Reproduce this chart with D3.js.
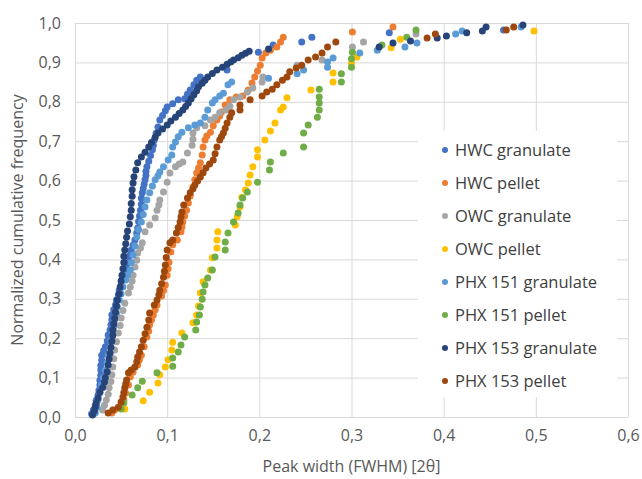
<!DOCTYPE html>
<html>
<head>
<meta charset="utf-8">
<script src="https://cdn.jsdelivr.net/npm/d3@7"></script>
<style>
  html, body { margin: 0; padding: 0; background: #ffffff; }
  svg { display: block; }
  text { font-family: "Open Sans", "Noto Sans", sans-serif; }
</style>
</head>
<body>
<svg id="chart" width="642" height="479"></svg>
<script>
// ---------- DATA ----------
const xTicks = [0, 0.1, 0.2, 0.3, 0.4, 0.5, 0.6];
const yTicks = [0, 0.1, 0.2, 0.3, 0.4, 0.5, 0.6, 0.7, 0.8, 0.9, 1.0];
const xTitle = "Peak width (FWHM) [2θ]";
const yTitle = "Normalized cumulative frequency";

const seriesNames = ["HWC granulate", "HWC pellet", "OWC granulate", "OWC pellet",
  "PHX 151 granulate", "PHX 151 pellet", "PHX 153 granulate", "PHX 153 pellet"];

// [peak width, cumulative frequency]
const hwcGranulate = [[0.018,0.008],[0.020,0.018],[0.022,0.030],[0.023,0.042],[0.025,0.056],[0.026,0.068],[0.027,0.081],[0.027,0.093],[0.028,0.106],[0.028,0.119],[0.028,0.131],[0.029,0.144],[0.029,0.157],[0.031,0.168],[0.033,0.178],[0.035,0.193],[0.036,0.208],[0.038,0.221],[0.039,0.234],[0.040,0.247],[0.040,0.259],[0.042,0.272],[0.044,0.285],[0.045,0.297],[0.047,0.310],[0.048,0.322],[0.050,0.335],[0.051,0.348],[0.053,0.361],[0.055,0.374],[0.056,0.386],[0.058,0.399],[0.060,0.411],[0.061,0.424],[0.063,0.436],[0.065,0.449],[0.067,0.467],[0.068,0.480],[0.069,0.496],[0.070,0.510],[0.071,0.525],[0.072,0.540],[0.072,0.555],[0.073,0.569],[0.074,0.580],[0.075,0.591],[0.076,0.602],[0.077,0.613],[0.077,0.624],[0.078,0.635],[0.080,0.649],[0.082,0.664],[0.084,0.678],[0.085,0.690],[0.086,0.703],[0.088,0.720],[0.090,0.736],[0.092,0.754],[0.095,0.765],[0.098,0.777],[0.100,0.787],[0.106,0.795],[0.112,0.805],[0.119,0.808],[0.122,0.819],[0.125,0.830],[0.129,0.843],[0.132,0.855],[0.136,0.863],[0.165,0.881],[0.199,0.926],[0.215,0.944],[0.246,0.952],[0.257,0.964],[0.341,0.975],[0.465,0.982]];

const hwcPellet = [[0.040,0.010],[0.043,0.018],[0.049,0.025],[0.051,0.034],[0.053,0.043],[0.055,0.061],[0.058,0.081],[0.060,0.102],[0.063,0.114],[0.068,0.132],[0.070,0.145],[0.072,0.157],[0.075,0.178],[0.078,0.203],[0.080,0.218],[0.081,0.234],[0.083,0.246],[0.085,0.259],[0.087,0.272],[0.089,0.284],[0.094,0.307],[0.096,0.321],[0.098,0.335],[0.100,0.360],[0.101,0.376],[0.102,0.393],[0.104,0.419],[0.106,0.437],[0.111,0.449],[0.115,0.470],[0.116,0.482],[0.117,0.495],[0.119,0.510],[0.121,0.525],[0.123,0.543],[0.125,0.561],[0.128,0.584],[0.130,0.602],[0.132,0.619],[0.134,0.632],[0.136,0.645],[0.138,0.665],[0.139,0.685],[0.141,0.703],[0.143,0.713],[0.147,0.723],[0.150,0.739],[0.154,0.754],[0.157,0.764],[0.159,0.774],[0.163,0.792],[0.168,0.805],[0.175,0.812],[0.182,0.815],[0.188,0.830],[0.192,0.848],[0.195,0.863],[0.198,0.878],[0.201,0.893],[0.203,0.911],[0.207,0.924],[0.212,0.931],[0.219,0.939],[0.223,0.952],[0.226,0.964],[0.301,0.977],[0.345,0.990]];

const owcGranulate = [[0.030,0.018],[0.032,0.030],[0.034,0.043],[0.036,0.058],[0.037,0.074],[0.039,0.090],[0.040,0.107],[0.041,0.127],[0.042,0.148],[0.043,0.170],[0.045,0.191],[0.047,0.213],[0.049,0.232],[0.050,0.251],[0.052,0.270],[0.054,0.289],[0.058,0.315],[0.060,0.330],[0.062,0.345],[0.063,0.360],[0.065,0.381],[0.067,0.398],[0.068,0.416],[0.071,0.429],[0.073,0.442],[0.076,0.470],[0.081,0.487],[0.087,0.505],[0.089,0.525],[0.091,0.538],[0.092,0.551],[0.096,0.571],[0.100,0.596],[0.103,0.619],[0.109,0.635],[0.113,0.642],[0.117,0.647],[0.122,0.670],[0.127,0.690],[0.128,0.705],[0.128,0.721],[0.132,0.734],[0.141,0.739],[0.147,0.754],[0.152,0.761],[0.157,0.772],[0.164,0.779],[0.168,0.789],[0.172,0.805],[0.179,0.812],[0.187,0.825],[0.193,0.835],[0.203,0.850],[0.204,0.863],[0.241,0.893],[0.268,0.906],[0.301,0.939],[0.313,0.952],[0.370,0.972]];

const owcPellet = [[0.054,0.020],[0.074,0.041],[0.081,0.063],[0.090,0.086],[0.092,0.107],[0.098,0.127],[0.101,0.145],[0.105,0.170],[0.106,0.190],[0.116,0.213],[0.128,0.239],[0.132,0.259],[0.134,0.282],[0.136,0.315],[0.139,0.343],[0.147,0.373],[0.149,0.404],[0.154,0.429],[0.154,0.449],[0.155,0.470],[0.174,0.487],[0.176,0.508],[0.179,0.533],[0.181,0.558],[0.185,0.576],[0.188,0.594],[0.190,0.614],[0.193,0.635],[0.198,0.660],[0.198,0.678],[0.206,0.703],[0.212,0.726],[0.217,0.746],[0.223,0.779],[0.226,0.787],[0.230,0.810],[0.256,0.830],[0.280,0.850],[0.280,0.873],[0.300,0.898],[0.306,0.914],[0.343,0.937],[0.353,0.959],[0.498,0.980]];

const phx151Granulate = [[0.022,0.010],[0.024,0.025],[0.025,0.043],[0.027,0.062],[0.029,0.081],[0.031,0.100],[0.033,0.119],[0.035,0.138],[0.036,0.157],[0.038,0.176],[0.039,0.195],[0.041,0.212],[0.042,0.229],[0.043,0.246],[0.045,0.263],[0.046,0.280],[0.048,0.297],[0.050,0.313],[0.052,0.330],[0.055,0.348],[0.057,0.360],[0.060,0.373],[0.061,0.392],[0.063,0.411],[0.065,0.434],[0.067,0.457],[0.069,0.476],[0.072,0.495],[0.074,0.514],[0.076,0.533],[0.078,0.551],[0.081,0.569],[0.084,0.586],[0.087,0.602],[0.090,0.612],[0.092,0.622],[0.096,0.635],[0.101,0.652],[0.105,0.665],[0.106,0.685],[0.109,0.698],[0.112,0.711],[0.116,0.723],[0.123,0.734],[0.130,0.741],[0.136,0.746],[0.141,0.761],[0.144,0.779],[0.149,0.797],[0.152,0.805],[0.157,0.815],[0.161,0.822],[0.166,0.843],[0.170,0.850],[0.210,0.860],[0.241,0.871],[0.248,0.881],[0.274,0.888],[0.274,0.901],[0.280,0.911],[0.309,0.924],[0.328,0.931],[0.358,0.939],[0.371,0.949],[0.413,0.972],[0.420,0.980],[0.484,0.990]];

const phx151Pellet = [[0.050,0.020],[0.053,0.036],[0.062,0.056],[0.068,0.074],[0.073,0.091],[0.089,0.112],[0.106,0.129],[0.106,0.150],[0.112,0.165],[0.115,0.183],[0.119,0.203],[0.131,0.221],[0.132,0.241],[0.135,0.259],[0.136,0.279],[0.138,0.299],[0.139,0.317],[0.141,0.335],[0.144,0.353],[0.149,0.373],[0.152,0.406],[0.163,0.424],[0.163,0.444],[0.166,0.467],[0.172,0.495],[0.177,0.518],[0.179,0.538],[0.182,0.556],[0.187,0.571],[0.198,0.596],[0.211,0.627],[0.212,0.647],[0.226,0.670],[0.248,0.685],[0.248,0.721],[0.253,0.741],[0.263,0.761],[0.265,0.779],[0.265,0.797],[0.265,0.812],[0.265,0.832],[0.289,0.850],[0.289,0.871],[0.300,0.888],[0.300,0.909],[0.301,0.926],[0.333,0.944],[0.360,0.964],[0.370,0.982]];

const phx153Granulate = [[0.019,0.005],[0.021,0.015],[0.022,0.025],[0.023,0.035],[0.025,0.048],[0.027,0.063],[0.030,0.075],[0.032,0.088],[0.033,0.100],[0.035,0.115],[0.036,0.132],[0.037,0.147],[0.038,0.162],[0.039,0.177],[0.040,0.192],[0.041,0.207],[0.041,0.221],[0.042,0.236],[0.043,0.250],[0.044,0.266],[0.045,0.282],[0.046,0.297],[0.048,0.313],[0.049,0.330],[0.050,0.345],[0.051,0.360],[0.052,0.376],[0.053,0.392],[0.053,0.408],[0.054,0.424],[0.055,0.440],[0.056,0.456],[0.057,0.472],[0.059,0.490],[0.060,0.508],[0.061,0.525],[0.061,0.542],[0.062,0.560],[0.062,0.577],[0.063,0.594],[0.064,0.610],[0.066,0.627],[0.068,0.645],[0.072,0.660],[0.076,0.672],[0.080,0.685],[0.083,0.697],[0.087,0.710],[0.090,0.721],[0.095,0.731],[0.100,0.741],[0.104,0.751],[0.109,0.761],[0.113,0.770],[0.117,0.779],[0.120,0.788],[0.123,0.797],[0.126,0.808],[0.129,0.818],[0.132,0.828],[0.134,0.838],[0.138,0.847],[0.141,0.855],[0.144,0.863],[0.149,0.872],[0.154,0.881],[0.160,0.888],[0.165,0.895],[0.169,0.901],[0.172,0.906],[0.177,0.912],[0.181,0.918],[0.185,0.923],[0.189,0.928],[0.210,0.934],[0.330,0.939],[0.345,0.949],[0.364,0.954],[0.393,0.962],[0.403,0.967],[0.425,0.975],[0.442,0.980],[0.446,0.990],[0.486,0.995]];

const phx153Pellet = [[0.036,0.010],[0.041,0.018],[0.047,0.025],[0.050,0.038],[0.052,0.051],[0.053,0.062],[0.054,0.074],[0.055,0.084],[0.056,0.094],[0.058,0.112],[0.061,0.119],[0.065,0.127],[0.067,0.140],[0.068,0.152],[0.070,0.165],[0.072,0.178],[0.074,0.195],[0.076,0.211],[0.078,0.228],[0.080,0.246],[0.081,0.264],[0.086,0.284],[0.089,0.297],[0.091,0.310],[0.092,0.322],[0.094,0.338],[0.096,0.355],[0.097,0.370],[0.098,0.386],[0.099,0.405],[0.100,0.424],[0.103,0.442],[0.106,0.449],[0.110,0.467],[0.112,0.481],[0.114,0.495],[0.115,0.508],[0.116,0.520],[0.118,0.538],[0.122,0.556],[0.125,0.569],[0.128,0.579],[0.130,0.589],[0.133,0.599],[0.136,0.609],[0.139,0.620],[0.142,0.632],[0.146,0.642],[0.150,0.652],[0.152,0.668],[0.154,0.685],[0.157,0.703],[0.159,0.712],[0.161,0.721],[0.163,0.733],[0.165,0.746],[0.168,0.761],[0.170,0.772],[0.179,0.779],[0.179,0.792],[0.190,0.805],[0.203,0.815],[0.208,0.825],[0.214,0.832],[0.219,0.843],[0.225,0.855],[0.230,0.863],[0.233,0.876],[0.240,0.886],[0.246,0.893],[0.253,0.906],[0.261,0.914],[0.268,0.924],[0.274,0.939],[0.283,0.952],[0.382,0.962],[0.391,0.972],[0.468,0.982],[0.476,0.990]];

const seriesData = [hwcGranulate, hwcPellet, owcGranulate, owcPellet,
  phx151Granulate, phx151Pellet, phx153Granulate, phx153Pellet];

const seriesColors = ["#4472C4", "#ED7D31", "#A5A5A5", "#FFC000",
  "#5B9BD5", "#70AD47", "#264478", "#9E480E"];

// ---------- CHART ----------
const svg = d3.select("#chart");
const plot = { left: 75, right: 628, top: 23, bottom: 417 };

const x = d3.scaleLinear().domain([0, 0.6]).range([plot.left, plot.right]);
const y = d3.scaleLinear().domain([0, 1]).range([plot.bottom, plot.top]);
const fmt = v => d3.format(".1f")(v).replace(".", ",");

const gridColor = "#D9D9D9";
const textColor = "#595959";
const tickFont = 16;

// Horizontal grid
svg.append("g")
  .attr("transform", `translate(${plot.left},0)`)
  .call(d3.axisLeft(y).tickValues(yTicks).tickSize(-(plot.right - plot.left)).tickFormat(""))
  .call(g => g.select(".domain").remove())
  .call(g => g.selectAll("line").attr("stroke", gridColor).attr("stroke-width", 1));

// Vertical grid
svg.append("g")
  .attr("transform", `translate(0,${plot.bottom})`)
  .call(d3.axisBottom(x).tickValues(xTicks).tickSize(-(plot.bottom - plot.top)).tickFormat(""))
  .call(g => g.select(".domain").remove())
  .call(g => g.selectAll("line").attr("stroke", gridColor).attr("stroke-width", 1));

// Y tick labels
svg.append("g")
  .attr("transform", `translate(${plot.left},0)`)
  .call(d3.axisLeft(y).tickValues(yTicks).tickSize(0).tickPadding(14).tickFormat(fmt))
  .call(g => g.select(".domain").remove())
  .call(g => g.selectAll("text").attr("fill", textColor).attr("font-size", tickFont)
    .attr("font-family", "'Open Sans', sans-serif"));

// X tick labels
svg.append("g")
  .attr("transform", `translate(0,${plot.bottom})`)
  .call(d3.axisBottom(x).tickValues(xTicks).tickSize(0).tickPadding(13).tickFormat(fmt))
  .call(g => g.select(".domain").remove())
  .call(g => g.selectAll("text").attr("fill", textColor).attr("font-size", tickFont)
    .attr("font-family", "'Open Sans', sans-serif"));

// Axis titles
svg.append("text")
  .attr("x", (plot.left + plot.right) / 2)
  .attr("y", 472)
  .attr("text-anchor", "middle")
  .attr("fill", textColor)
  .attr("font-size", 16)
  .text(xTitle);

svg.append("text")
  .attr("transform", `translate(23,${(plot.top + plot.bottom) / 2}) rotate(-90)`)
  .attr("text-anchor", "middle")
  .attr("fill", textColor)
  .attr("font-size", 16)
  .text(yTitle);

// Points
const series = seriesNames.map((name, i) => ({ name, color: seriesColors[i], values: seriesData[i] }));
series.forEach(s => {
  svg.append("g")
    .selectAll("circle")
    .data(s.values)
    .join("circle")
    .attr("cx", d => x(d[0]))
    .attr("cy", d => y(d[1]))
    .attr("r", 3.5)
    .attr("fill", s.color);
});

// Legend
const legend = svg.append("g");
legend.append("rect")
  .attr("x", 418).attr("y", 131).attr("width", 199).attr("height", 266)
  .attr("fill", "#ffffff");
const item = legend.selectAll("g.item")
  .data(series)
  .join("g")
  .attr("class", "item")
  .attr("transform", (d, i) => `translate(445,${150 + i * 33})`);
item.append("circle").attr("r", 3).attr("fill", d => d.color);
item.append("text")
  .attr("x", 10)
  .attr("dy", "0.35em")
  .attr("fill", "#404040")
  .attr("font-size", 16.5)
  .text(d => d.name);
</script>
</body>
</html>
